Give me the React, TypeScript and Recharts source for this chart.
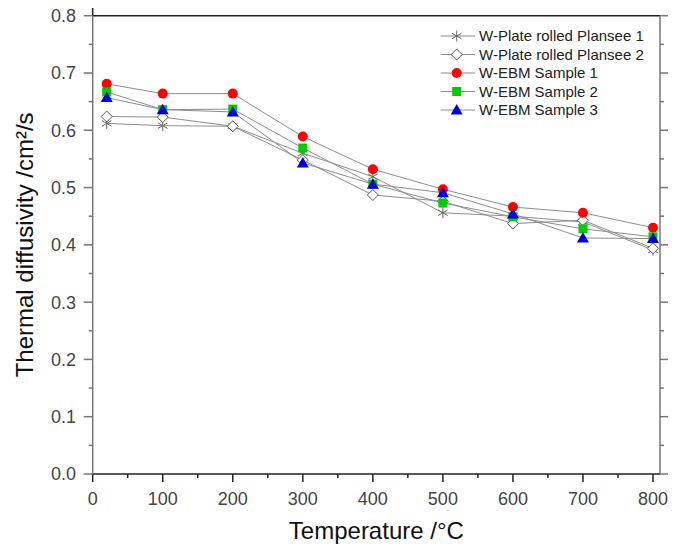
import React from 'react';
import { LineChart, Line, XAxis, YAxis, Customized } from 'recharts';

const temps = [20, 100, 200, 300, 400, 500, 600, 700, 800];
const plansee1 = [0.612, 0.608, 0.607, 0.56, 0.519, 0.456, 0.45, 0.44, 0.391];
const plansee2 = [0.624, 0.623, 0.607, 0.548, 0.487, 0.476, 0.437, 0.443, 0.394];
const ebm1 = [0.681, 0.664, 0.664, 0.589, 0.532, 0.497, 0.466, 0.456, 0.43];
const ebm2 = [0.667, 0.636, 0.637, 0.569, 0.506, 0.473, 0.449, 0.428, 0.414];
const ebm3 = [0.657, 0.636, 0.632, 0.543, 0.506, 0.491, 0.454, 0.412, 0.411];

const seriesNames = [
  'W-Plate rolled Plansee 1',
  'W-Plate rolled Plansee 2',
  'W-EBM Sample 1',
  'W-EBM Sample 2',
  'W-EBM Sample 3',
];
const seriesKeys = ['p1', 'p2', 'e1', 'e2', 'e3'];
const seriesMarkers = ['star', 'diamond', 'circle', 'square', 'triangle'];

const xTicks = [0, 50, 100, 150, 200, 250, 300, 350, 400, 450, 500, 550, 600, 650, 700, 750, 800];
const yTicks = [0, 0.05, 0.1, 0.15, 0.2, 0.25, 0.3, 0.35, 0.4, 0.45, 0.5, 0.55, 0.6, 0.65, 0.7, 0.75, 0.8];

const xTitle = 'Temperature /°C';
const yTitle = 'Thermal diffusivity /cm²/s';

const data = temps.map((t, i) => ({
  t,
  p1: plansee1[i],
  p2: plansee2[i],
  e1: ebm1[i],
  e2: ebm2[i],
  e3: ebm3[i],
}));

const FONT = '"Liberation Sans", Arial, sans-serif';
const LINE_COLOR = '#8c8c8c';
const H_AXIS = '#222222';
const V_AXIS = '#777777';

function marker(kind: string, cx: number, cy: number, key: any) {
  if (cx == null || cy == null || isNaN(cx) || isNaN(cy)) return <g key={key} />;
  switch (kind) {
    case 'star': {
      const r = 5.5;
      const a = r * Math.cos(Math.PI / 6);
      const b = r * Math.sin(Math.PI / 6);
      return (
        <g key={key} stroke="#666" strokeWidth={1}>
          <line x1={cx} y1={cy - r} x2={cx} y2={cy + r} />
          <line x1={cx - a} y1={cy - b} x2={cx + a} y2={cy + b} />
          <line x1={cx - a} y1={cy + b} x2={cx + a} y2={cy - b} />
        </g>
      );
    }
    case 'diamond': {
      const r = 5.5;
      return (
        <polygon
          key={key}
          points={`${cx},${cy - r} ${cx + r},${cy} ${cx},${cy + r} ${cx - r},${cy}`}
          fill="#ffffff"
          stroke="#555"
          strokeWidth={1}
        />
      );
    }
    case 'circle':
      return <circle key={key} cx={cx} cy={cy} r={5} fill="#ff0000" />;
    case 'square':
      return <rect key={key} x={cx - 4.5} y={cy - 4.5} width={9} height={9} fill="#00cc00" />;
    case 'triangle':
    default:
      return (
        <polygon
          key={key}
          points={`${cx},${cy - 6} ${cx + 6},${cy + 4.5} ${cx - 6},${cy + 4.5}`}
          fill="#0000dd"
        />
      );
  }
}

const BottomTick = (props: any) => {
  const { x, y, payload } = props;
  const v = payload.value;
  const major = Math.round(v) % 100 === 0;
  return (
    <g>
      <line x1={x} y1={y} x2={x} y2={y + (major ? 8 : 4)} stroke={H_AXIS} strokeWidth={1.5} />
      {major && (
        <text x={x} y={y + 31} textAnchor="middle" fontSize={18} fill="#444" fontFamily={FONT}>
          {v}
        </text>
      )}
    </g>
  );
};

const TopTick = (props: any) => {
  const { x, y, payload } = props;
  const major = Math.round(payload.value) % 100 === 0;
  return <line x1={x} y1={y} x2={x} y2={y - (major ? 8 : 4)} stroke={H_AXIS} strokeWidth={1.5} />;
};

const LeftTick = (props: any) => {
  const { x, y, payload } = props;
  const v = payload.value;
  const major = Math.round(v * 100) % 10 === 0;
  return (
    <g>
      <line x1={x} y1={y} x2={x - (major ? 9 : 4)} y2={y} stroke={V_AXIS} strokeWidth={1.5} />
      {major && (
        <text x={x - 16.7} y={y + 6.4} textAnchor="end" fontSize={18} fill="#444" fontFamily={FONT}>
          {v.toFixed(1)}
        </text>
      )}
    </g>
  );
};

const RightTick = (props: any) => {
  const { x, y, payload } = props;
  const major = Math.round(payload.value * 100) % 10 === 0;
  return <line x1={x} y1={y} x2={x + (major ? 8 : 4)} y2={y} stroke={V_AXIS} strokeWidth={1.5} />;
};

const XTitle = (props: any) => {
  const vb = props.viewBox || {};
  return (
    <text x={vb.x + vb.width / 2} y={vb.y + 65} textAnchor="middle" fontSize={24} fill="#111" fontFamily={FONT}>
      {xTitle}
    </text>
  );
};

const YTitle = (props: any) => {
  const vb = props.viewBox || {};
  const cx = 32.7;
  const cy = vb.y + vb.height / 2;
  return (
    <text
      x={cx}
      y={cy}
      transform={`rotate(-90 ${cx} ${cy})`}
      textAnchor="middle"
      fontSize={24}
      fill="#111"
      fontFamily={FONT}
    >
      {yTitle}
    </text>
  );
};

const LegendSvg = () => {
  const x0 = 440.7;
  const x1 = 475;
  const mx = 456.7;
  const tx = 479;
  return (
    <g>
      {seriesNames.map((name, i) => {
        const cy = 36 + i * 18.5;
        return (
          <g key={name}>
            <line x1={x0} y1={cy} x2={x1} y2={cy} stroke={LINE_COLOR} strokeWidth={1} />
            {marker(seriesMarkers[i], mx, cy, 'm' + i)}
            <text x={tx} y={cy + 5.4} fontSize={15} fill="#222" fontFamily={FONT}>
              {name}
            </text>
          </g>
        );
      })}
    </g>
  );
};

export default function App() {
  return (
    <div style={{ margin: '-8px 0 0 -8px', width: 683, height: 547 }}>
      <LineChart width={683} height={547} data={data} margin={{ top: 0, right: 0, bottom: 0, left: 0 }}>
        <XAxis
          xAxisId="b"
          dataKey="t"
          type="number"
          domain={[0, 810]}
          ticks={xTicks}
          interval={0}
          allowDataOverflow
          height={73}
          tickSize={0}
          tickMargin={0}
          tickLine={false}
          axisLine={{ stroke: H_AXIS, strokeWidth: 1.5 }}
          tick={BottomTick}
          label={<XTitle />}
        />
        <XAxis
          xAxisId="t"
          orientation="top"
          type="number"
          domain={[0, 810]}
          ticks={xTicks}
          interval={0}
          allowDataOverflow
          height={15.7}
          tickSize={0}
          tickMargin={0}
          tickLine={false}
          axisLine={{ stroke: H_AXIS, strokeWidth: 1.5 }}
          tick={TopTick}
        />
        <YAxis
          yAxisId="l"
          type="number"
          domain={[0, 0.8]}
          ticks={yTicks}
          interval={0}
          allowDataOverflow
          width={92.7}
          tickSize={0}
          tickMargin={0}
          tickLine={false}
          axisLine={{ stroke: V_AXIS, strokeWidth: 1.5 }}
          tick={LeftTick}
          label={<YTitle />}
        />
        <YAxis
          yAxisId="r"
          orientation="right"
          type="number"
          domain={[0, 0.8]}
          ticks={yTicks}
          interval={0}
          allowDataOverflow
          width={23}
          tickSize={0}
          tickMargin={0}
          tickLine={false}
          axisLine={{ stroke: V_AXIS, strokeWidth: 1.5 }}
          tick={RightTick}
        />
        {seriesKeys.map((k, i) => (
          <Line
            key={k}
            xAxisId="b"
            yAxisId="l"
            type="linear"
            dataKey={k}
            name={seriesNames[i]}
            stroke={LINE_COLOR}
            strokeWidth={1}
            dot={(p: any) => marker(seriesMarkers[i], p.cx, p.cy, k + '-' + p.index)}
            activeDot={false}
            isAnimationActive={false}
          />
        ))}
        <Customized component={LegendSvg} />
      </LineChart>
    </div>
  );
}
